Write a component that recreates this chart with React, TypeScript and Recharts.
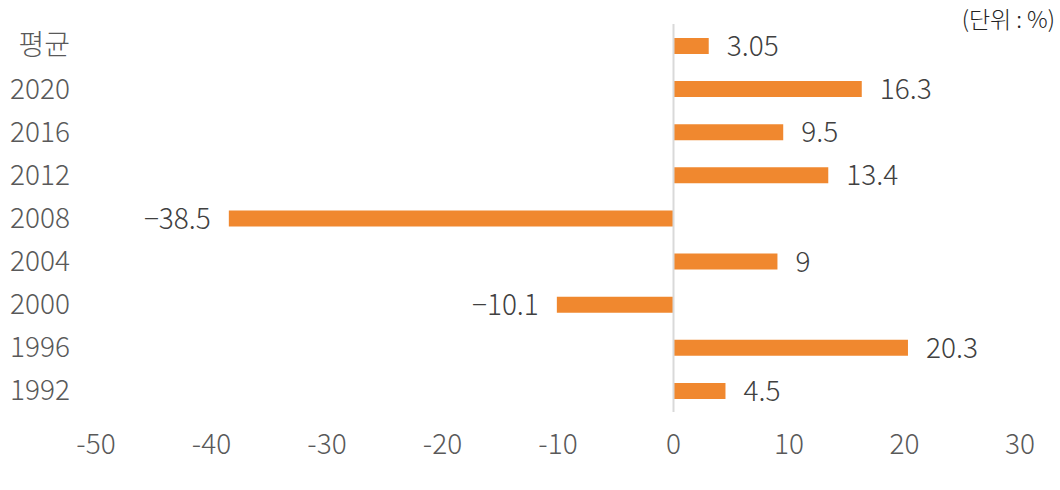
import { Bar, BarChart, LabelList, ReferenceLine, XAxis, YAxis } from "recharts";

const categories = ["평균", "2020", "2016", "2012", "2008", "2004", "2000", "1996", "1992"];
const values = [3.05, 16.3, 9.5, 13.4, -38.5, 9, -10.1, 20.3, 4.5];
const xTicks = [-50, -40, -30, -20, -10, 0, 10, 20, 30];

const data = categories.map((name, i) => ({ name, value: values[i] }));

const FONT = "'Noto Sans CJK KR', 'Noto Sans', sans-serif";

const ValueLabel = (props: any) => {
  const { x, y, width, height, value } = props;
  const neg = value < 0;
  const barStart = Math.min(x, x + width);
  const barEnd = Math.max(x, x + width);
  const tx = neg ? barStart - 18 : barEnd + 18;
  const text = neg ? `−${Math.abs(value)}` : `${value}`;
  return (
    <text
      x={tx}
      y={y + height / 2}
      dy="0.36em"
      textAnchor={neg ? "end" : "start"}
      fill="#404040"
      fontSize={28}
      fontWeight={300}
      fontFamily={FONT}
    >
      {text}
    </text>
  );
};

export default function App() {
  return (
    <div style={{ position: "absolute", left: 0, top: 0, width: 1060, height: 490, background: "#fff" }}>
      <div
        style={{
          position: "absolute",
          right: 5,
          top: 1,
          fontFamily: FONT,
          fontSize: 23,
          fontWeight: 300,
          color: "#222",
        }}
      >
        (단위 : %)
      </div>
      <BarChart
        width={1060}
        height={490}
        data={data}
        layout="vertical"
        margin={{ top: 24, right: 40, bottom: 0, left: 0 }}
        barSize={16}
      >
        <XAxis
          type="number"
          domain={[-50, 30]}
          ticks={xTicks}
          axisLine={false}
          tickLine={false}
          tickSize={0}
          tickMargin={22}
          height={78}
          interval={0}
          tick={{ fill: "#595959", fontSize: 28, fontWeight: 300, fontFamily: FONT }}
        />
        <YAxis
          type="category"
          dataKey="name"
          axisLine={false}
          tickLine={false}
          tickSize={0}
          tickMargin={26}
          width={96}
          interval={0}
          tick={{ fill: "#595959", fontSize: 28, fontWeight: 300, fontFamily: FONT }}
        />
        <ReferenceLine x={0} stroke="#d9d9d9" strokeWidth={2} />
        <Bar dataKey="value" fill="#F0882F" isAnimationActive={false}>
          <LabelList dataKey="value" content={<ValueLabel />} />
        </Bar>
      </BarChart>
    </div>
  );
}
